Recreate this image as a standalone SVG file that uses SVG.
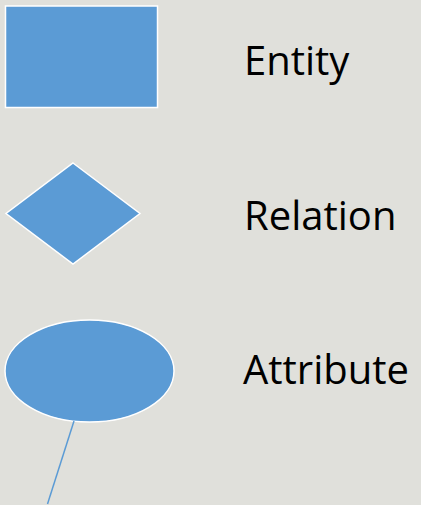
<svg xmlns="http://www.w3.org/2000/svg" width="421" height="505" viewBox="0 0 421 505">
  <style>
    .shape { fill: #5b9bd5; stroke: #ffffff; stroke-width: 1.5; }
    .label { font-family: "Open Sans", "Liberation Sans", sans-serif; font-size: 40px; fill: #000000; }
    .link { stroke: #5b9bd5; stroke-width: 1.5; fill: none; }
  </style>
  <rect x="0" y="0" width="421" height="505" fill="#e0e0db"/>
  <g id="entity">
    <rect class="shape" x="5.5" y="6" width="152" height="101.5"/>
    <text class="label" x="244" y="74.5">Entity</text>
  </g>
  <g id="relation">
    <polygon class="shape" points="73,163 140,213.5 73,264 6,213.5"/>
    <text class="label" x="244" y="229.5">Relation</text>
  </g>
  <g id="attribute">
    <ellipse class="shape" cx="89.5" cy="371" rx="84.5" ry="51"/>
    <text class="label" x="243" y="384">Attribute</text>
  </g>
  <g id="connectors">
    <line class="link" x1="74" y1="421" x2="47.5" y2="504"/>
  </g>
</svg>
